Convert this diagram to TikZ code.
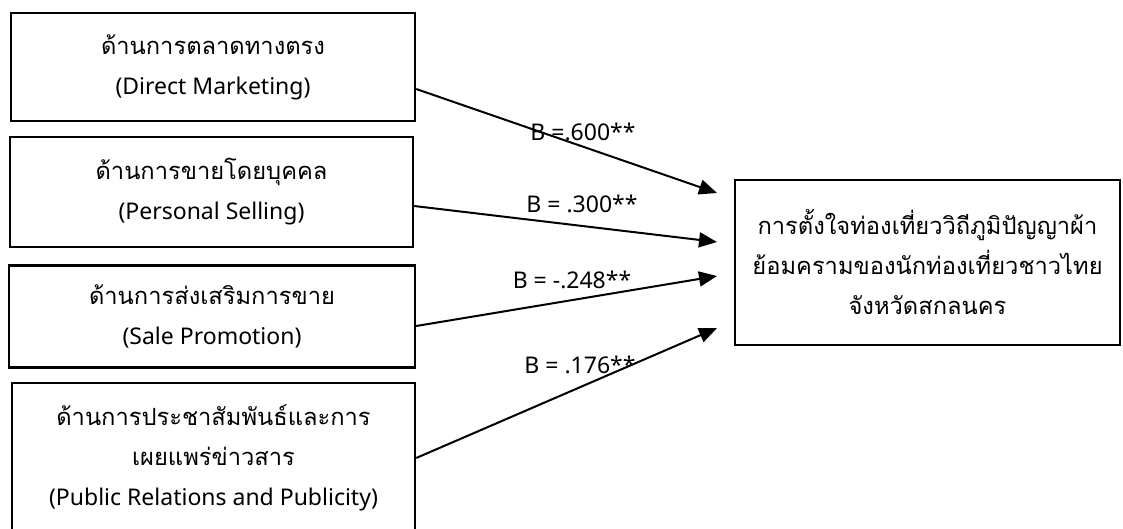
\documentclass[tikz,border=0pt]{standalone}
\usepackage{fontspec}
\setmainfont{Noto Sans}
\newfontfamily\thai[Script=Thai,Scale=1.03]{Loma}
\usetikzlibrary{arrows.meta}
\begin{document}
\begin{tikzpicture}[x=1pt,y=-1pt,
  box/.style={draw,line width=2.4pt,rectangle,inner sep=0pt,align=center,font=\fontsize{23}{40}\selectfont},
  arr/.style={line width=2pt,-{Triangle[length=18pt,width=15pt]}},
  lbl/.style={font=\fontsize{23}{26}\selectfont,inner sep=0pt}]
\useasboundingbox (0,0) rectangle (1123,528);
\begin{scope}
\clip (0,0) rectangle (1123,528);
\node[box,minimum width=404pt,minimum height=108pt] (b1) at (213,67) {{\thai ด้านการตลาดทางตรง}\\(Direct Marketing)};
\node[box,minimum width=403pt,minimum height=110pt] (b2) at (211.5,192) {{\thai ด้านการขายโดยบุคคล}\\(Personal Selling)};
\node[box,minimum width=406pt,minimum height=102pt] (b3) at (212,316.5) {{\thai ด้านการส่งเสริมการขาย}\\(Sale Promotion)};
\node[box,minimum width=403pt,minimum height=150pt] (b4) at (213.5,458) {{\thai ด้านการประชาสัมพันธ์และการ}\\{\thai เผยแพร่ข่าวสาร}\\(Public Relations and Publicity)};
\end{scope}
\node[box,minimum width=385pt,minimum height=165pt] (r) at (927.5,262.5) {{\thai การตั้งใจท่องเที่ยววิถีภูมิปัญญาผ้า}\\{\thai ย้อมครามของนักท่องเที่ยวชาวไทย}\\{\thai จังหวัดสกลนคร}};
\coordinate (s1) at (b1.east |- 0,89);
\coordinate (s2) at (b2.east |- 0,206);
\coordinate (s3) at (b3.east |- 0,326);
\coordinate (s4) at (b4.east |- 0,458);
\coordinate (e1) at (717,193);
\coordinate (e2) at (717,242);
\coordinate (e3) at (717,276);
\coordinate (e4) at (717,328);
\draw[arr] (s1) -- (e1);
\draw[arr] (s2) -- (e2);
\draw[arr] (s3) -- (e3);
\draw[arr] (s4) -- (e4);
\node[lbl] (l1) at (583,132) {B =.600**};
\node[lbl] (l2) at (582,204) {B = .300**};
\node[lbl] (l3) at (572,280) {B = -.248**};
\node[lbl] (l4) at (580,365) {B = .176**};
\end{tikzpicture}
\end{document}
